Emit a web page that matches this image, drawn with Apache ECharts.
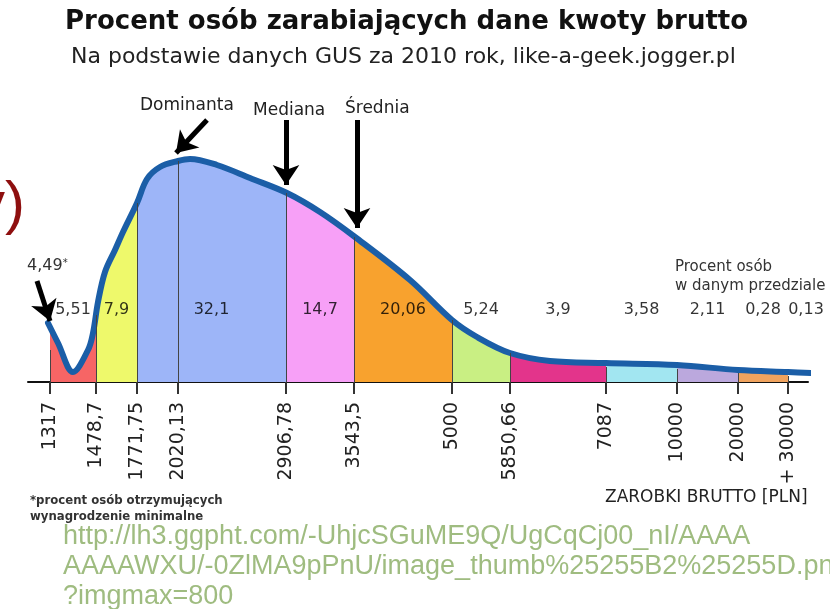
<!DOCTYPE html>
<html>
<head>
<meta charset="utf-8">
<script src="https://cdn.jsdelivr.net/npm/echarts@6/dist/echarts.min.js"></script>
<style>
  html, body { margin: 0; padding: 0; background: #fff; }
  #chart { width: 830px; height: 609px; }
</style>
</head>
<body>
<div id="chart"></div>
<script>
// salary boundaries (PLN) and where they sit on the schematic axis
const bounds = [1317, 1478.7, 1771.75, 2020.13, 2906.78, 3543.5, 5000, 5850.66, 7087, 10000, 20000, 30000];
const tickLabels = ['1317', '1478,7', '1771,75', '2020,13', '2906,78', '3543,5', '5000', '5850,66', '7087', '10000', '20000', '+ 30000'];
const boundPos = [22, 68, 109, 150, 258, 326, 424, 482, 578, 649, 710, 760];
// height of the filled area at each boundary
const boundTop = [32, 67, 179, 221, 189, 145, 62, 29, 15, 13, 9, 6];

// share of people (%) in each bin
const binEdges = [1317, 1478.7, 1771.75, 2906.78, 3543.5, 5000, 5850.66, 7087, 10000, 20000, 30000];
const shares = [5.51, 7.9, 32.1, 14.7, 20.06, 5.24, 3.9, 3.58, 2.11, 0.28, 0.13];
const minWageShare = 4.49;

const dominanta = 2020.13;
const mediana = 2906.78;
const srednia = 3543.5;

// distribution curve [axis position, height]
const curve = [
  [20, 59], [30, 39], [45, 10], [60, 32], [65, 49], [70, 80], [77, 110], [87, 132],
  [95, 150], [109, 179], [119, 203], [132, 215], [150, 221], [162, 223], [189, 217],
  [222, 204], [259, 189], [292, 170], [327, 145], [382, 102], [424, 62], [449, 45],
  [482, 29], [522, 21], [578, 19], [649, 17], [710, 12], [760, 10], [785, 9]
];

const segColors = ['#f76565', '#eef96b', '#9db5f8', '#9db5f8', '#f7a0f7', '#f8a22e',
  '#c9ef83', '#e3348b', '#a2e6f1', '#bba8dd', '#f0a35e'];

const posOf = v => boundPos[bounds.indexOf(v)];
const fmt = v => String(v).replace('.', ',');

const pieces = [{ lt: boundPos[0], color: 'rgba(255,255,255,0)' }];
for (let i = 0; i < boundPos.length - 1; i++) {
  pieces.push({ gte: boundPos[i], lt: boundPos[i + 1], color: segColors[i] });
}
pieces.push({ gte: boundPos[boundPos.length - 1], color: 'rgba(255,255,255,0)' });

const separators = boundPos.map((p, i) => [{ coord: [p, 0] }, { coord: [p, boundTop[i]] }]);

const shareLabels = shares.map((s, i) => {
  const a = posOf(binEdges[i]);
  const b = i + 1 < binEdges.length ? posOf(binEdges[i + 1]) : a + 36;
  return [(a + b) / 2, 72, s];
});

const arrows = [
  [{ coord: [posOf(dominanta) + 29, 262] }, { coord: [posOf(dominanta) - 2, 229] }],
  [{ coord: [posOf(mediana), 262] }, { coord: [posOf(mediana), 197] }],
  [{ coord: [posOf(srednia) + 3, 262] }, { coord: [posOf(srednia) + 3, 154] }],
  [{ coord: [posOf(1317) - 13, 101] }, { coord: [posOf(1317), 61] }]
];

const chart = echarts.init(document.getElementById('chart'));
chart.setOption({
  animation: false,
  title: [
    {
      text: 'Procent osób zarabiających dane kwoty brutto',
      left: 60, top: 4,
      textStyle: { fontFamily: 'DejaVu Sans', fontWeight: 'bold', fontSize: 26, color: '#111' }
    },
    {
      text: 'Na podstawie danych GUS za 2010 rok, like-a-geek.jogger.pl',
      left: 66, top: 41,
      textStyle: { fontFamily: 'DejaVu Sans', fontWeight: 'normal', fontSize: 22, color: '#222' }
    }
  ],
  grid: { left: 28, right: 22, top: 92, bottom: 227 },
  xAxis: {
    type: 'value',
    min: 0,
    max: 780,
    splitLine: { show: false },
    axisLine: { lineStyle: { color: '#111', width: 2 } },
    axisTick: { customValues: boundPos, length: 12, lineStyle: { color: '#333', width: 2 } },
    axisLabel: {
      customValues: boundPos,
      rotate: 90,
      margin: 20,
      fontFamily: 'DejaVu Sans',
      fontSize: 19,
      color: '#222',
      formatter: v => tickLabels[boundPos.indexOf(v)]
    }
  },
  yAxis: { type: 'value', min: 0, max: 290, show: false },
  visualMap: {
    show: false,
    type: 'piecewise',
    dimension: 0,
    seriesIndex: 0,
    pieces: pieces
  },
  series: [
    {
      name: 'fill',
      type: 'line',
      data: curve,
      smooth: 0.35,
      symbol: 'none',
      clip: false,
      z: 1,
      lineStyle: { opacity: 0 },
      areaStyle: { opacity: 1 },
      silent: true
    },
    {
      name: 'separators',
      type: 'line',
      data: [],
      z: 2,
      markLine: {
        silent: true,
        symbol: 'none',
        label: { show: false },
        lineStyle: { color: '#444', width: 1, type: 'solid' },
        data: separators
      }
    },
    {
      name: 'curve',
      type: 'line',
      data: curve,
      smooth: 0.35,
      symbol: 'none',
      clip: false,
      z: 3,
      lineStyle: { color: '#1b5ea7', width: 6, cap: 'round', join: 'round' }
    },
    {
      name: 'shares',
      type: 'scatter',
      data: shareLabels,
      symbolSize: 1,
      itemStyle: { color: 'rgba(0,0,0,0)' },
      z: 10,
      label: {
        show: true,
        position: 'inside',
        opacity: 1,
        formatter: p => fmt(p.value[2]),
        fontFamily: 'DejaVu Sans',
        fontSize: 16,
        color: 'rgba(0,0,0,0.8)'
      },
      labelLayout: { hideOverlap: false }
    },
    {
      name: 'arrows',
      type: 'line',
      data: [],
      z: 5,
      markLine: {
        silent: true,
        symbol: ['none', 'arrow'],
        symbolSize: [20, 20],
        label: { show: false },
        lineStyle: { color: '#000', width: 5, type: 'solid' },
        itemStyle: { color: '#000' },
        data: arrows
      }
    }
  ],
  graphic: [
    {
      type: 'text', right: 805, top: 176,
      style: { text: 'y)', font: '60px "Liberation Sans"', fill: '#8e0f0f' }
    },
    {
      type: 'text', left: 140, top: 97,
      style: { text: 'Dominanta', font: '17px "DejaVu Sans"', fill: '#222' }
    },
    {
      type: 'text', left: 253, top: 102,
      style: { text: 'Mediana', font: '17px "DejaVu Sans"', fill: '#222' }
    },
    {
      type: 'text', left: 345, top: 100,
      style: { text: 'Średnia', font: '17px "DejaVu Sans"', fill: '#222' }
    },
    {
      type: 'text', left: 27, top: 258,
      style: {
        text: '{a|' + fmt(minWageShare) + '}{s|*}',
        rich: {
          a: { font: '16px "DejaVu Sans"', fill: '#333' },
          s: { font: '10px "DejaVu Sans"', fill: '#333', verticalAlign: 'top' }
        }
      }
    },
    {
      type: 'text', left: 675, top: 258,
      style: {
        text: 'Procent osób\nw danym przedziale',
        font: '15px "DejaVu Sans"', lineHeight: 19, fill: '#333'
      }
    },
    {
      type: 'text', left: 605, top: 489,
      style: { text: 'ZAROBKI BRUTTO [PLN]', font: '17px "DejaVu Sans"', fill: '#222' }
    },
    {
      type: 'text', left: 30, top: 493,
      style: {
        text: '*procent osób otrzymujących\nwynagrodzenie minimalne',
        font: 'bold 13px "DejaVu Sans Condensed"', lineHeight: 16, fill: '#333'
      }
    },
    {
      type: 'text', left: 63, top: 522,
      style: {
        text: 'http://lh3.ggpht.com/-UhjcSGuME9Q/UgCqCj00_nI/AAAA\nAAAAWXU/-0ZlMA9pPnU/image_thumb%25255B2%25255D.png\n?imgmax=800',
        font: '27px "Liberation Sans"', lineHeight: 30, fill: '#9fbc80'
      }
    }
  ]
});
</script>
</body>
</html>
